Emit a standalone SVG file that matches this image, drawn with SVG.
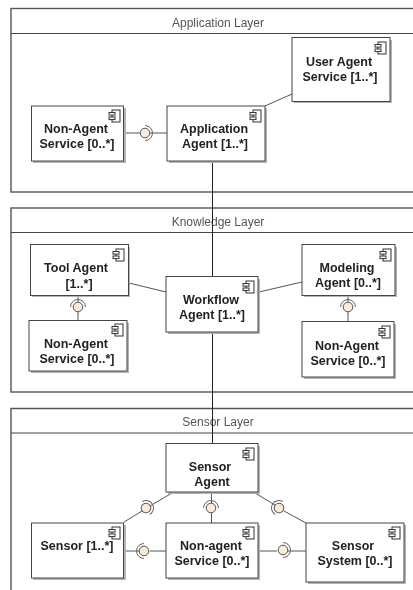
<svg xmlns="http://www.w3.org/2000/svg" width="413" height="590" viewBox="0 0 413 590">
<defs>
<filter id="soft" x="-2%" y="-2%" width="104%" height="104%"><feGaussianBlur stdDeviation="0.35"/></filter>
<g id="icon"><rect x="-7" y="-6" width="8" height="12" fill="#fff" stroke="#333" stroke-width="1"/><rect x="-10" y="-3.500" width="6" height="2.600" fill="#fff" stroke="#333" stroke-width="1"/><rect x="-10" y="1" width="6" height="2.600" fill="#fff" stroke="#333" stroke-width="1"/></g>
<g id="lolly"><circle r="4.800" fill="#f8ecd8" stroke="#555" stroke-width="1"/><path d="M0-7.500A7.500 7.500 0 0 1 0 7.500" fill="none" stroke="#666" stroke-width="1"/></g>
</defs>
<style>
.frame{fill:#fff;stroke:#555;stroke-width:1.400}
.hd{stroke:#444;stroke-width:1;fill:none}
.title{font:12px "Liberation Sans",Arial,sans-serif;fill:#555;text-anchor:middle}
.box{fill:#fff;stroke:#444;stroke-width:1}
.sh{fill:#b4b4b4}
.lbl{font:bold 12.500px "Liberation Sans",Arial,sans-serif;fill:#222;text-anchor:middle}
.c{stroke:#555;stroke-width:1;fill:none}
.v{stroke:#222;stroke-width:1;fill:none}
</style>
<rect width="413" height="590" fill="#fff"/>
<g filter="url(#soft)">
<g id="application-layer"><rect class="frame" x="11" y="8.500" width="420" height="183.500"/><path class="hd" d="M11 33.500H413"/><text class="title" x="218" y="27">Application Layer</text></g>
<g id="knowledge-layer"><rect class="frame" x="11" y="208" width="420" height="184"/><path class="hd" d="M11 232.500H413"/><text class="title" x="218" y="226">Knowledge Layer</text></g>
<g id="sensor-layer"><path class="frame" d="M11 600V408.500H431V600"/><path class="hd" d="M11 433H413"/><text class="title" x="218" y="426">Sensor Layer</text></g>
<g id="connectors">
<path class="c" d="M124.500 133H140M150 133H167M265 106L292 94"/>
<path class="v" d="M212.500 161V277M212.500 332V444"/>
<path class="c" d="M129 283L166 292M259 292L302 282M78 295V302M78 312V321M348 295V302M348 312V322"/>
<path class="c" d="M172 493L150 506M142 511L124 522M211.500 492V503M211.500 513V523M255 493L275 505M284 511L306 523"/>
<path class="c" d="M124.500 551H139M150 551H166M259 551H277M288 551H306"/>
</g>
<g id="lollipops">
<use href="#lolly" transform="translate(145,133)"/>
<use href="#lolly" transform="translate(78,307) rotate(-90)"/>
<use href="#lolly" transform="translate(348,307) rotate(-90)"/>
<use href="#lolly" transform="translate(146,508) rotate(-30)"/>
<use href="#lolly" transform="translate(211,508) rotate(-90)"/>
<use href="#lolly" transform="translate(279,508) rotate(210)"/>
<use href="#lolly" transform="translate(144,551) rotate(180)"/>
<use href="#lolly" transform="translate(283,550)"/>
</g>
<g id="user-agent"><rect class="sh" x="294" y="40" width="98" height="63"/><rect class="box" x="292" y="37.500" width="98" height="64"/><use href="#icon" transform="translate(385,48)"/><text class="lbl" x="339" y="66">User Agent</text><text class="lbl" x="340" y="81">Service [1..*]</text></g>
<g id="non-agent-app"><rect class="sh" x="33" y="108" width="93" height="55"/><rect class="box" x="31.500" y="106" width="92" height="55"/><use href="#icon" transform="translate(119,116)"/><text class="lbl" x="76" y="133">Non-Agent</text><text class="lbl" x="77" y="148">Service [0..*]</text></g>
<g id="application-agent"><rect class="sh" x="169" y="108" width="98" height="55"/><rect class="box" x="167" y="106" width="98" height="55"/><use href="#icon" transform="translate(260,116)"/><text class="lbl" x="214" y="133">Application</text><text class="lbl" x="215" y="148">Agent [1..*]</text></g>
<g id="tool-agent"><rect class="sh" x="32" y="247" width="98" height="50"/><rect class="box" x="30.500" y="244.500" width="98" height="51"/><use href="#icon" transform="translate(123,255)"/><text class="lbl" x="76" y="272">Tool Agent</text><text class="lbl" x="79" y="288">[1..*]</text></g>
<g id="non-agent-tool"><rect class="sh" x="31" y="323" width="98" height="50"/><rect class="box" x="29" y="320.500" width="98" height="50.500"/><use href="#icon" transform="translate(122,330)"/><text class="lbl" x="76" y="348">Non-Agent</text><text class="lbl" x="77" y="363">Service [0..*]</text></g>
<g id="workflow-agent"><rect class="sh" x="168" y="279" width="92" height="55"/><rect class="box" x="166" y="276.500" width="92" height="55.500"/><use href="#icon" transform="translate(253,287)"/><text class="lbl" x="211" y="304">Workflow</text><text class="lbl" x="212" y="319">Agent [1..*]</text></g>
<g id="modeling-agent"><rect class="sh" x="304" y="247" width="93" height="50"/><rect class="box" x="302" y="244.500" width="93" height="51"/><use href="#icon" transform="translate(390,255)"/><text class="lbl" x="347" y="272">Modeling</text><text class="lbl" x="348" y="287">Agent [0..*]</text></g>
<g id="non-agent-modeling"><rect class="sh" x="304" y="324" width="92" height="55"/><rect class="box" x="302" y="321.500" width="92" height="55.500"/><use href="#icon" transform="translate(389,332)"/><text class="lbl" x="347" y="350">Non-Agent</text><text class="lbl" x="348" y="365">Service [0..*]</text></g>
<g id="sensor-agent"><rect class="sh" x="168" y="446" width="92" height="48"/><rect class="box" x="166" y="443.500" width="92" height="48.500"/><use href="#icon" transform="translate(253,454)"/><text class="lbl" x="210" y="471">Sensor</text><text class="lbl" x="212" y="486">Agent</text></g>
<g id="sensor"><rect class="sh" x="33" y="525" width="93" height="55"/><rect class="box" x="31.500" y="523" width="92" height="55"/><use href="#icon" transform="translate(119,533)"/><text class="lbl" x="77" y="550">Sensor [1..*]</text></g>
<g id="non-agent-sensor"><rect class="sh" x="168" y="525" width="92" height="55"/><rect class="box" x="166" y="523" width="92" height="55"/><use href="#icon" transform="translate(253,533)"/><text class="lbl" x="211" y="550">Non-agent</text><text class="lbl" x="212" y="565">Service [0..*]</text></g>
<g id="sensor-system"><rect class="sh" x="308" y="525" width="98" height="59"/><rect class="box" x="306" y="523" width="98" height="59"/><use href="#icon" transform="translate(399,533)"/><text class="lbl" x="353" y="550">Sensor</text><text class="lbl" x="355" y="565">System [0..*]</text></g>
</g>
</svg>
